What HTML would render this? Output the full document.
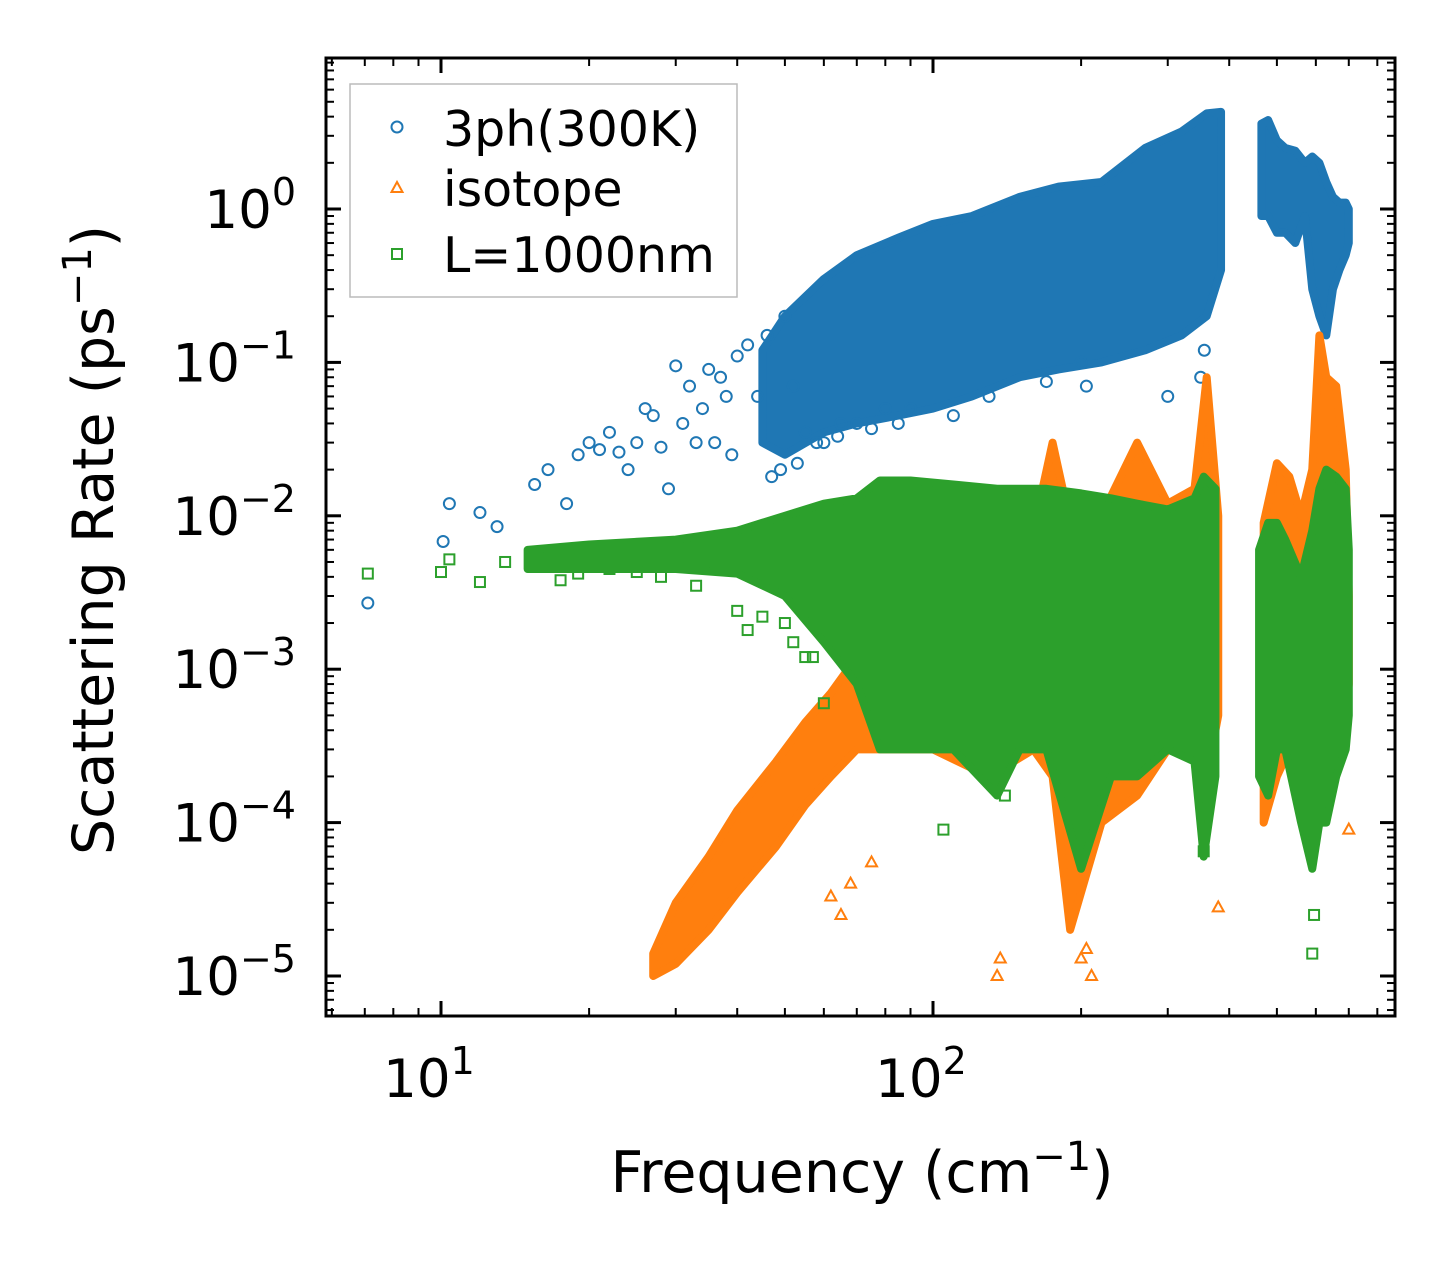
<!DOCTYPE html>
<html><head><meta charset="utf-8">
<style>
html,body{margin:0;padding:0;background:#fff;}
svg{display:block;font-family:"DejaVu Sans","Liberation Sans",sans-serif;}
</style></head>
<body>
<svg id="chart" width="1455" height="1265" viewBox="0 0 1455 1265" xmlns="http://www.w3.org/2000/svg">
<rect width="1455" height="1265" fill="#fff"/>
<g id="plot"></g>
<g id="axes"></g>
<text transform="translate(113,540) rotate(-90)" text-anchor="middle" font-size="57">Scattering Rate (ps<tspan dy="-22" font-size="40">−1</tspan><tspan dy="22">)</tspan></text>
<text x="862" y="1192" text-anchor="middle" font-size="57">Frequency (cm<tspan dy="-22" font-size="40">−1</tspan><tspan dy="22">)</tspan></text>
<g>
<rect x="350" y="84" width="387" height="213" fill="#fff" stroke="#bbb" stroke-width="1.5"/>
<circle cx="397" cy="127" r="5.5" fill="none" stroke="#1f77b4" stroke-width="2"/>
<text x="443" y="146" font-size="49">3ph(300K)</text>
<polygon points="397,182 391.5,192 402.5,192" fill="none" stroke="#ff7f0e" stroke-width="2"/>
<text x="443" y="206" font-size="49">isotope</text>
<rect x="392" y="249" width="10" height="10" fill="none" stroke="#2ca02c" stroke-width="2"/>
<text x="443" y="272" font-size="49">L=1000nm</text>
</g>
</svg>
<script>
// ---- data ----
const xTickExps = [1, 2];
const yTickExps = [0, -1, -2, -3, -4, -5];
// 3ph band segments: frequency, lower rate, upper rate
const blueBandF  = [45, 50, 60, 70, 85, 100, 120, 150, 180, 220, 270, 320, 360, 385];
const blueBandLo = [0.03, 0.025, 0.035, 0.04, 0.045, 0.05, 0.06, 0.08, 0.09, 0.1, 0.12, 0.15, 0.2, 0.4];
const blueBandHi = [0.12, 0.2, 0.35, 0.5, 0.65, 0.8, 0.9, 1.2, 1.4, 1.5, 2.5, 3.2, 4.2, 4.3];
const blueBand2F  = [465, 480, 500, 520, 545, 570, 590, 610, 630, 650, 670, 690, 700];
const blueBand2Lo = [0.9, 0.9, 0.7, 0.7, 0.6, 0.9, 0.3, 0.2, 0.15, 0.3, 0.4, 0.5, 0.6];
const blueBand2Hi = [3.6, 3.8, 2.8, 2.5, 2.4, 2.0, 2.2, 2.0, 1.5, 1.2, 1.1, 1.1, 1.0];
const blueScatF = [7.1, 10.1, 10.4, 12, 13, 15.5, 16.5, 18, 19, 20, 21, 22, 23, 24, 25, 26, 27, 28, 29, 30, 31, 32, 33, 34, 35, 36, 37, 38, 39, 40, 42, 44, 46, 50, 52, 55, 60, 65, 70, 80, 90, 200, 205, 300, 350, 356, 47, 49, 53, 58, 64, 75, 85, 110, 130, 170];
const blueScatY = [0.0027, 0.0068, 0.012, 0.0105, 0.0085, 0.016, 0.02, 0.012, 0.025, 0.03, 0.027, 0.035, 0.026, 0.02, 0.03, 0.05, 0.045, 0.028, 0.015, 0.095, 0.04, 0.07, 0.03, 0.05, 0.09, 0.03, 0.08, 0.06, 0.025, 0.11, 0.13, 0.06, 0.15, 0.2, 0.07, 0.035, 0.03, 0.04, 0.04, 0.05, 0.05, 0.1, 0.07, 0.06, 0.08, 0.12, 0.018, 0.02, 0.022, 0.03, 0.033, 0.037, 0.04, 0.045, 0.06, 0.075];
// isotope band segments
const orgBandF  = [27, 30, 35, 40, 48, 55, 62, 70, 80, 100, 130, 160, 175, 190, 220, 260, 300, 340, 360, 380];
const orgBandLo = [1e-5, 1.2e-5, 2e-5, 3.5e-5, 7e-5, 1.3e-4, 2e-4, 3e-4, 3e-4, 3e-4, 2e-4, 3e-4, 2e-4, 2e-5, 1e-4, 1.5e-4, 3e-4, 3e-4, 2e-4, 5e-4];
const orgBandHi = [1.4e-5, 3e-5, 6e-5, 1.2e-4, 2.5e-4, 4.5e-4, 7e-4, 1.2e-3, 2e-3, 4e-3, 6e-3, 8e-3, 0.03, 0.009, 0.01, 0.03, 0.012, 0.015, 0.08, 0.01];
const orgBand2F  = [470, 500, 530, 560, 590, 610, 630, 660, 690, 700];
const orgBand2Lo = [1e-4, 2e-4, 3e-4, 2e-4, 1e-4, 2e-4, 3e-4, 3e-4, 5e-4, 8e-4];
const orgBand2Hi = [0.009, 0.022, 0.018, 0.01, 0.02, 0.15, 0.08, 0.07, 0.02, 0.003];
const orgScatF = [62, 65, 68, 75, 135, 137, 200, 205, 210, 380, 700];
const orgScatY = [3.3e-5, 2.5e-5, 4e-5, 5.5e-5, 1e-5, 1.3e-5, 1.3e-5, 1.5e-5, 1e-5, 2.8e-5, 9e-5];
// L=1000nm band segments
const grnBandF  = [15, 20, 30, 40, 50, 60, 70, 78, 90, 110, 135, 150, 170, 200, 230, 260, 300, 340, 355, 375];
const grnBandLo = [0.0045, 0.0045, 0.0045, 0.0042, 0.003, 0.0015, 0.0008, 3e-4, 3e-4, 3e-4, 1.5e-4, 3e-4, 3e-4, 5e-5, 2e-4, 2e-4, 3e-4, 2.5e-4, 6e-5, 2e-4];
const grnBandHi = [0.006, 0.0065, 0.007, 0.008, 0.01, 0.012, 0.013, 0.017, 0.017, 0.016, 0.015, 0.015, 0.015, 0.014, 0.013, 0.012, 0.011, 0.013, 0.018, 0.015];
const grnBand2F  = [460, 480, 500, 520, 560, 590, 610, 630, 660, 690, 700];
const grnBand2Lo = [2e-4, 1.5e-4, 3e-4, 3e-4, 1e-4, 5e-5, 1e-4, 1e-4, 2e-4, 3e-4, 5e-4];
const grnBand2Hi = [0.006, 0.009, 0.009, 0.007, 0.004, 0.008, 0.015, 0.02, 0.018, 0.015, 0.006];
const grnScatF = [7.1, 10, 10.4, 12, 13.5, 17.5, 19, 22, 25, 28, 33, 40, 42, 45, 50, 52, 55, 57, 60, 105, 140, 355, 590, 595];
const grnScatY = [0.0042, 0.0043, 0.0052, 0.0037, 0.005, 0.0038, 0.0042, 0.0045, 0.0043, 0.004, 0.0035, 0.0024, 0.0018, 0.0022, 0.002, 0.0015, 0.0012, 0.0012, 0.0006, 9e-5, 1.5e-4, 6.5e-5, 1.4e-5, 2.5e-5];

// ---- axis functions ----
const X0 = 326, X1 = 1395, Y0 = 58, Y1 = 1016;
const xs = f => 441 + 492 * (Math.log10(f) - 1);
const ys = v => 209 - 153.4 * Math.log10(v);
const NS = 'http://www.w3.org/2000/svg';
const plot = document.getElementById('plot');
const axes = document.getElementById('axes');
function mk(tag, attrs, parent) {
  const e = document.createElementNS(NS, tag);
  for (const k in attrs) e.setAttribute(k, attrs[k]);
  parent.appendChild(e);
  return e;
}
const clip = mk('clipPath', {id: 'clip'}, plot);
mk('rect', {x: X0, y: Y0, width: X1 - X0, height: Y1 - Y0}, clip);
plot.setAttribute('clip-path', 'url(#clip)');

function band(F, lo, hi, color, name) {
  const pts = [];
  for (let i = 0; i < F.length; i++) pts.push(xs(F[i]) + ',' + ys(hi[i]));
  for (let i = F.length - 1; i >= 0; i--) pts.push(xs(F[i]) + ',' + ys(lo[i]));
  const p = mk('polygon', {points: pts.join(' '), fill: color, stroke: color, 'stroke-width': 8, 'stroke-linejoin': 'round'}, plot);
  
  
}
function marker(shape, x, y, color, name) {
  let e;
  if (shape === 'c') e = mk('circle', {cx: x, cy: y, r: 5.5, fill: 'none', stroke: color, 'stroke-width': 2}, plot);
  else if (shape === 't') e = mk('polygon', {points: `${x},${y-6} ${x-5.5},${y+4} ${x+5.5},${y+4}`, fill: 'none', stroke: color, 'stroke-width': 2}, plot);
  else e = mk('rect', {x: x - 5, y: y - 5, width: 10, height: 10, fill: 'none', stroke: color, 'stroke-width': 2}, plot);
  
  
}
const B = '#1f77b4', O = '#ff7f0e', G = '#2ca02c';
band(blueBandF, blueBandLo, blueBandHi, B, 'band-3ph-main');
band(blueBand2F, blueBand2Lo, blueBand2Hi, B, 'band-3ph-high');
blueScatF.forEach((f, i) => marker('c', xs(f), ys(blueScatY[i]), B, 'point-3ph'));
band(orgBandF, orgBandLo, orgBandHi, O, 'band-isotope-main');
band(orgBand2F, orgBand2Lo, orgBand2Hi, O, 'band-isotope-high');
orgScatF.forEach((f, i) => marker('t', xs(f), ys(orgScatY[i]), O, 'point-isotope'));
band(grnBandF, grnBandLo, grnBandHi, G, 'band-boundary-main');
band(grnBand2F, grnBand2Lo, grnBand2Hi, G, 'band-boundary-high');
grnScatF.forEach((f, i) => marker('s', xs(f), ys(grnScatY[i]), G, 'point-boundary'));

// ---- frame & ticks ----
const fr = mk('rect', {x: X0, y: Y0, width: X1 - X0, height: Y1 - Y0, fill: 'none', stroke: '#000', 'stroke-width': 3}, axes);


function tick(x1, y1, x2, y2, w) { mk('line', {x1, y1, x2, y2, stroke: '#000', 'stroke-width': w}, axes); }
for (let d = 0; d <= 3; d++) {
  for (let m = 1; m <= 9; m++) {
    const f = m * Math.pow(10, d);
    const x = xs(f);
    if (x < X0 || x > X1) continue;
    const L = m === 1 ? 15 : 8, w = m === 1 ? 3 : 2;
    tick(x, Y1, x, Y1 - L, w); tick(x, Y0, x, Y0 + L, w);
  }
}
for (let d = -6; d <= 1; d++) {
  for (let m = 1; m <= 9; m++) {
    const v = m * Math.pow(10, d);
    const y = ys(v);
    if (y < Y0 || y > Y1) continue;
    const L = m === 1 ? 15 : 8, w = m === 1 ? 3 : 2;
    tick(X0, y, X0 + L, y, w); tick(X1, y, X1 - L, y, w);
  }
}
xTickExps.forEach(e => {
  const t = mk('text', {x: xs(Math.pow(10, e)) - 12, y: 1097, 'text-anchor': 'middle', 'font-size': 53}, axes);
  
  
  t.innerHTML = `10<tspan dy="-23" font-size="38">${e}</tspan>`;
});
yTickExps.forEach(e => {
  const t = mk('text', {x: 296, y: ys(Math.pow(10, e)) + 19, 'text-anchor': 'end', 'font-size': 53}, axes);
  
  
  t.innerHTML = `10<tspan dy="-23" font-size="38">${e === 0 ? '0' : '−' + (-e)}</tspan>`;
});
</script>
</body></html>
